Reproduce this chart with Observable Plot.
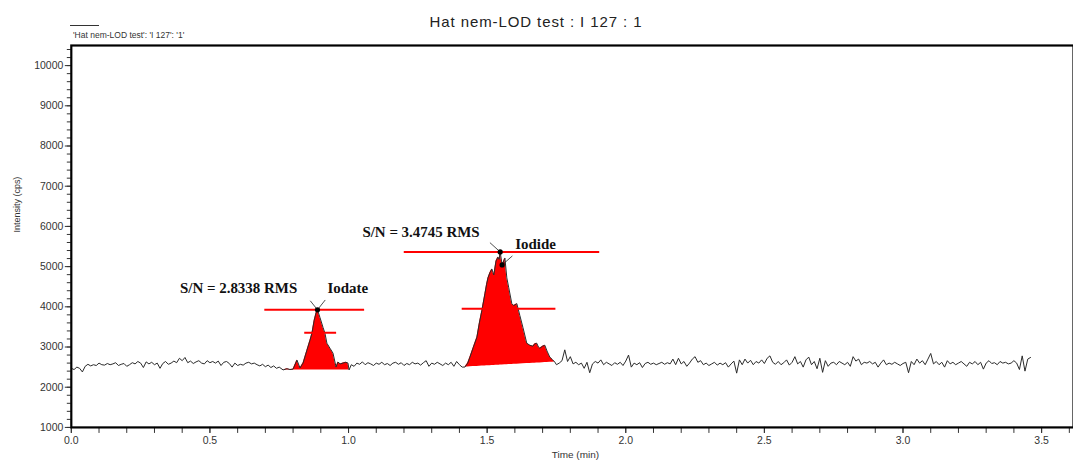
<!DOCTYPE html>
<html><head><meta charset="utf-8">
<script src="https://cdn.jsdelivr.net/npm/d3@7"></script>
<script src="https://cdn.jsdelivr.net/npm/@observablehq/plot@0.6"></script>
<style>
html,body{margin:0;padding:0;background:#fff;overflow:hidden;}
#wrap{position:relative;width:1073px;height:463px;overflow:hidden;background:#fff;}
#hdr{position:relative;width:1073px;height:43px;}
#title{position:absolute;left:0;top:14px;width:1072px;text-align:center;font-family:"Liberation Sans",Arial,sans-serif;font-size:15px;line-height:15px;letter-spacing:0.9px;color:#222;white-space:nowrap;}
#legline{position:absolute;left:70px;top:25px;width:29px;height:0;border-top:1px solid #333;}
#legtext{position:absolute;left:73px;top:31px;font-family:"Liberation Sans",Arial,sans-serif;font-size:8.5px;line-height:9px;color:#333;white-space:nowrap;}
#chart svg{display:block;}
</style></head><body>
<div id="wrap">
<div id="hdr"><div id="title">Hat nem-LOD test : I 127 : 1</div><div id="legline"></div><div id="legtext">'Hat nem-LOD test': 'I 127': '1'</div></div>
<div id="chart"></div>
</div>
<script>
// ---- data: [time (min), intensity (cps)] ----
const noiseA = [[0.00,2470],[0.01,2440],[0.02,2500],[0.03,2470],[0.04,2380],[0.05,2520],[0.06,2570],[0.07,2530],[0.08,2560],[0.09,2540],
[0.10,2600],[0.11,2560],[0.12,2550],[0.13,2590],[0.14,2560],[0.15,2580],[0.16,2610],[0.17,2540],[0.18,2570],[0.19,2590],
[0.20,2520],[0.21,2560],[0.22,2610],[0.23,2580],[0.24,2640],[0.25,2600],[0.26,2490],[0.27,2630],[0.28,2580],[0.29,2620],
[0.30,2560],[0.31,2600],[0.32,2470],[0.33,2590],[0.34,2640],[0.35,2570],[0.36,2600],[0.37,2650],[0.38,2610],[0.39,2720],
[0.40,2660],[0.41,2740],[0.42,2610],[0.43,2650],[0.44,2590],[0.45,2630],[0.46,2660],[0.47,2600],[0.48,2580],[0.49,2660],
[0.50,2610],[0.51,2640],[0.52,2600],[0.53,2650],[0.54,2540],[0.55,2620],[0.56,2640],[0.57,2590],[0.58,2500],[0.59,2600],
[0.60,2540],[0.61,2570],[0.62,2550],[0.63,2600],[0.64,2620],[0.65,2580],[0.66,2600],[0.67,2560],[0.68,2530],[0.69,2570],
[0.70,2510],[0.71,2550],[0.72,2490],[0.73,2530],[0.74,2470],[0.75,2500]];

const iodatePeak = [[0.764,2430],[0.778,2460],[0.789,2440],[0.800,2450],[0.814,2675],[0.825,2478],[0.836,2600],[0.850,2921],
[0.861,3167],[0.868,3340],[0.876,3660],[0.883,3850],[0.888,3926],[0.897,3734],[0.908,3488],[0.915,3340],[0.922,3094],
[0.933,2970],[0.944,2847],[0.955,2502],[0.962,2625],[0.970,2580],[0.980,2600],[0.990,2620],[0.998,2600],[1.002,2430]];

const noiseB = [[1.01,2560],[1.02,2520],[1.03,2600],[1.04,2570],[1.05,2630],[1.06,2560],[1.07,2610],[1.08,2580],[1.09,2540],
[1.10,2600],[1.11,2570],[1.12,2620],[1.13,2560],[1.14,2590],[1.15,2540],[1.16,2600],[1.17,2620],[1.18,2570],[1.19,2610],
[1.20,2540],[1.21,2590],[1.22,2560],[1.23,2620],[1.24,2580],[1.25,2600],[1.26,2550],[1.27,2610],[1.28,2660],[1.29,2520],
[1.30,2600],[1.31,2570],[1.32,2620],[1.33,2580],[1.34,2540],[1.35,2600],[1.36,2560],[1.37,2620],[1.38,2520],[1.39,2640],
[1.40,2560],[1.41,2500]];

const iodidePeak = [[1.420,2502],[1.430,2600],[1.438,2749],[1.450,2990],[1.463,3241],[1.472,3600],[1.481,3906],[1.492,4325],
[1.498,4560],[1.503,4719],[1.510,4850],[1.517,4941],[1.524,4793],[1.532,5138],[1.539,5236],[1.543,5180],[1.547,5365],
[1.554,5042],[1.564,5212],[1.571,4719],[1.578,4473],[1.589,4079],[1.596,4030],[1.607,4079],[1.618,3783],[1.629,3488],
[1.643,3094],[1.654,3044],[1.665,3020],[1.672,3080],[1.679,3094],[1.685,3000],[1.690,2970],[1.700,3020],[1.708,3044],
[1.716,2900],[1.726,2749],[1.735,2690],[1.744,2626]];

const noiseC = [[1.75,2560],[1.76,2600],[1.77,2660],[1.78,2930],[1.79,2640],[1.80,2760],[1.81,2580],[1.82,2620],[1.83,2560],[1.84,2600],
[1.85,2470],[1.86,2620],[1.87,2360],[1.88,2580],[1.89,2640],[1.90,2600],[1.91,2680],[1.92,2560],[1.93,2620],[1.94,2580],
[1.95,2540],[1.96,2610],[1.97,2570],[1.98,2620],[1.99,2540],[2.00,2650],[2.01,2800],[2.02,2500],[2.03,2600],[2.04,2560],
[2.05,2610],[2.06,2490],[2.07,2590],[2.08,2620],[2.09,2570],[2.10,2600],[2.11,2560],[2.12,2590],[2.13,2620],[2.14,2570],
[2.15,2610],[2.16,2580],[2.17,2700],[2.18,2560],[2.19,2720],[2.20,2580],[2.21,2640],[2.22,2520],[2.23,2600],[2.24,2700],
[2.25,2760],[2.26,2620],[2.27,2660],[2.28,2560],[2.29,2600],[2.30,2540],[2.31,2580],[2.32,2620],[2.33,2550],[2.34,2600],
[2.35,2560],[2.36,2610],[2.37,2500],[2.38,2580],[2.39,2650],[2.40,2350],[2.41,2680],[2.42,2560],[2.43,2700],[2.44,2600],
[2.45,2670],[2.46,2560],[2.47,2640],[2.48,2600],[2.49,2680],[2.50,2590],[2.51,2720],[2.52,2780],[2.53,2620],[2.54,2570],
[2.55,2640],[2.56,2560],[2.57,2610],[2.58,2680],[2.59,2550],[2.60,2620],[2.61,2760],[2.62,2580],[2.63,2640],[2.64,2500],
[2.65,2680],[2.66,2750],[2.67,2560],[2.68,2640],[2.69,2460],[2.70,2720],[2.71,2370],[2.72,2660],[2.73,2520],[2.74,2600],
[2.75,2620],[2.76,2560],[2.77,2640],[2.78,2600],[2.79,2560],[2.80,2620],[2.81,2520],[2.82,2760],[2.83,2650],[2.84,2700],
[2.85,2560],[2.86,2620],[2.87,2600],[2.88,2640],[2.89,2580],[2.90,2620],[2.91,2500],[2.92,2600],[2.93,2680],[2.94,2560],
[2.95,2600],[2.96,2570],[2.97,2620],[2.98,2580],[2.99,2540],[3.00,2590],[3.01,2620],[3.02,2360],[3.03,2640],[3.04,2560],
[3.05,2700],[3.06,2600],[3.07,2660],[3.08,2560],[3.09,2700],[3.10,2840],[3.11,2580],[3.12,2640],[3.13,2560],[3.14,2620],
[3.15,2500],[3.16,2660],[3.17,2580],[3.18,2620],[3.19,2560],[3.20,2600],[3.21,2640],[3.22,2580],[3.23,2520],[3.24,2620],
[3.25,2580],[3.26,2640],[3.27,2560],[3.28,2620],[3.29,2450],[3.30,2600],[3.31,2660],[3.32,2590],[3.33,2610],[3.34,2560],
[3.35,2640],[3.36,2600],[3.37,2620],[3.38,2580],[3.39,2600],[3.40,2660],[3.41,2600],[3.42,2440],[3.43,2780],[3.44,2400],
[3.45,2700],[3.46,2740]];

// integration baselines (start / end intensity of the red filled region)
const iodateBase = [2430, 2430];
const iodideBase = [2502, 2626];

// S/N reference lines (red)
const snLines = [
  {t1: 0.698, t2: 1.058, v: 3926},
  {t1: 0.842, t2: 0.957, v: 3356},
  {t1: 1.201, t2: 1.906, v: 5365},
  {t1: 1.410, t2: 1.748, v: 3951}
];
// peak markers
const peakDots = [{t: 0.888, v: 3926}, {t: 1.547, v: 5365}, {t: 1.554, v: 5042}];
const pointers = [
  {t1: 0.862, v1: 4150, t2: 0.888, v2: 3926},
  {t1: 0.916, v1: 4170, t2: 0.888, v2: 3926},
  {t1: 1.510, v1: 5596, t2: 1.547, v2: 5365},
  {t1: 1.591, v1: 5266, t2: 1.554, v2: 5042}
];
const labels = [
  {t: 0.392, v: 4470, text: "S/N = 2.8338 RMS"},
  {t: 0.924, v: 4470, text: "Iodate"},
  {t: 1.050, v: 5860, text: "S/N = 3.4745 RMS"},
  {t: 1.601, v: 5563, text: "Iodide"}
];

// axis ticks
const xMajor = [0, 0.5, 1.0, 1.5, 2.0, 2.5, 3.0, 3.5];
const xMinor = d3.range(0, 3.61, 0.1);
const yMajor = [1000, 2000, 3000, 4000, 5000, 6000, 7000, 8000, 9000, 10000];
const yMinor = d3.range(1000, 10401, 200);

const xTitle = "Time (min)";
const yTitle = "Intensity (cps)";

// ---- build ----
const trace = [...noiseA, ...iodatePeak, ...noiseB, ...iodidePeak, ...noiseC].map(([t, v]) => ({t, v}));
function fillRows(peak, base) {
  const t0 = peak[0][0], t1 = peak[peak.length - 1][0];
  return peak.map(([t, v]) => ({t, v, base: base[0] + (base[1] - base[0]) * (t - t0) / (t1 - t0)}));
}
const iodateFill = fillRows(iodatePeak, iodateBase);
const iodideFill = fillRows(iodidePeak, iodideBase);

const RED = "#ff0000";
const chart = Plot.plot({
  width: 1076,
  height: 420,
  marginTop: 2,
  marginBottom: 35,
  marginLeft: 71,
  marginRight: 0,
  style: {fontFamily: "'Liberation Sans', Arial, sans-serif", fontSize: "10.5px", color: "#333", background: "#fff", overflow: "visible"},
  x: {domain: [0, 3.615]},
  y: {domain: [1000, 10500]},
  marks: [
    Plot.areaY(iodateFill, {x: "t", y1: "base", y2: "v", fill: RED}),
    Plot.areaY(iodideFill, {x: "t", y1: "base", y2: "v", fill: RED}),
    Plot.line(trace, {x: "t", y: "v", stroke: "#2a2a2a", strokeWidth: 1}),
    Plot.ruleY(snLines, {x1: "t1", x2: "t2", y: "v", stroke: RED, strokeWidth: 2}),
    Plot.link(pointers, {x1: "t1", y1: "v1", x2: "t2", y2: "v2", stroke: "#222", strokeWidth: 0.8}),
    Plot.dot(peakDots, {x: "t", y: "v", r: 2.6, fill: "#000"}),
    Plot.text(labels, {x: "t", y: "v", text: "text", textAnchor: "start", fontFamily: "'Liberation Serif', 'Times New Roman', serif", fontWeight: "bold", fontSize: 15, fill: "#111"}),
    Plot.axisY(yMinor, {tickSize: 4, tickFormat: () => "", label: null}),
    Plot.axisY(yMajor, {tickSize: 6, tickPadding: 2, tickFormat: d3.format("d"), label: null}),
    Plot.axisX(xMinor, {tickSize: 6, tickFormat: () => "", label: null}),
    Plot.axisX(xMajor, {tickSize: 6, tickPadding: 3, tickFormat: d3.format(".1f"), label: null}),
    Plot.text([yTitle], {frameAnchor: "left", dx: -54, dy: -4, rotate: -90, fontSize: 9, fill: "#333"}),
    Plot.text([xTitle], {frameAnchor: "bottom", dx: 3, dy: 31, fontSize: 10, fill: "#333"}),
    Plot.frame({stroke: "#000", strokeWidth: 2.2})
  ]
});
document.getElementById("chart").appendChild(chart);
</script>
</body></html>
